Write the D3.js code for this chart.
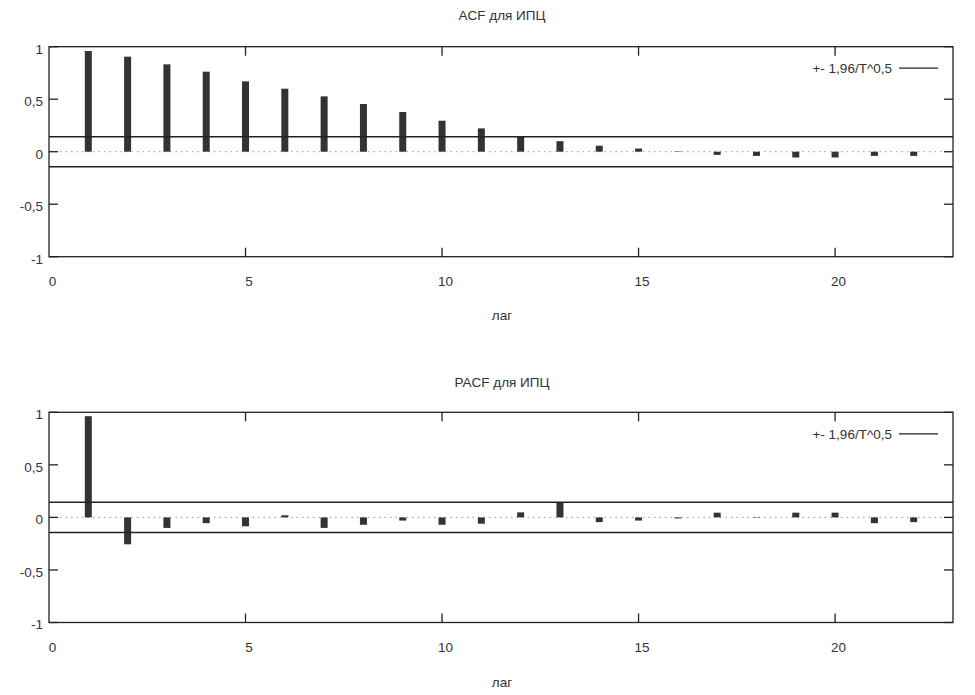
<!DOCTYPE html>
<html><head><meta charset="utf-8">
<script src="https://cdn.jsdelivr.net/npm/d3@7"></script>
<style>
body{margin:0;background:#fff;}
text{font-family:"Liberation Sans",Arial,sans-serif;fill:#333;}
</style></head>
<body><svg id="c" width="975" height="695"></svg>
<script>
const lags = d3.range(1, 23);
const acfValues = [0.959,0.905,0.832,0.762,0.67,0.6,0.527,0.454,0.378,0.295,0.222,0.149,0.10,0.057,0.03,0.004,-0.03,-0.04,-0.055,-0.055,-0.04,-0.04];
const pacfValues = [0.963,-0.256,-0.10,-0.055,-0.085,0.02,-0.10,-0.07,-0.03,-0.07,-0.06,0.048,0.147,-0.045,-0.03,-0.01,0.045,0.004,0.045,0.045,-0.055,-0.045];
const confBand = 0.143;
const xTicks = [0,5,10,15,20];
const yTicks = [-1,-0.5,0,0.5,1];
const titles = ["ACF для ИПЦ","PACF для ИПЦ"];
const xLabel = "лаг";
const legendLabel = "+- 1,96/T^0,5";

const svg = d3.select("#c");
const fmt = v => String(v).replace(".", ",");
const FS = 13.5;

function panel(values, title, top, bottom, titleY, tickLabY, xLabY){
  const x = d3.scaleLinear().domain([0,23]).range([49,953]);
  const y = d3.scaleLinear().domain([-1,1]).range([bottom, top]);
  const g = svg.append("g");
  g.append("text").attr("x",502).attr("y",titleY).attr("text-anchor","middle").attr("font-size",FS).text(title);
  // zero dotted
  g.append("line").attr("x1",x(0)).attr("x2",x(23)).attr("y1",y(0)).attr("y2",y(0))
    .attr("stroke","#999").attr("stroke-width",1).attr("stroke-dasharray","1.5,4");
  // bars
  g.selectAll("rect.bar").data(values).enter().append("rect")
    .attr("x",(d,i)=>x(lags[i])-3.5).attr("width",7)
    .attr("y",d=>y(Math.max(0,d))).attr("height",d=>Math.abs(y(d)-y(0)))
    .attr("fill","#333");
  // bands
  [confBand,-confBand].forEach(v=>{
    g.append("line").attr("x1",x(0)).attr("x2",x(23)).attr("y1",y(v)).attr("y2",y(v))
      .attr("stroke","#222").attr("stroke-width",1.5);
  });
  // frame
  g.append("rect").attr("x",x(0)).attr("y",top).attr("width",x(23)-x(0)).attr("height",bottom-top)
    .attr("fill","none").attr("stroke","#222").attr("stroke-width",1.3);
  // axes via d3
  const ax = d3.axisBottom(x).tickValues(xTicks).tickSize(0).tickPadding(0).tickFormat(fmt);
  const gx = g.append("g").attr("transform",`translate(3,${tickLabY})`).call(ax);
  gx.select(".domain").remove();
  gx.selectAll("text").attr("font-size",FS).attr("font-family",null).attr("dy","0.35em").attr("fill","#333");
  const ay = d3.axisLeft(y).tickValues(yTicks).tickSize(0).tickPadding(0).tickFormat(fmt);
  const gy = g.append("g").attr("transform",`translate(43,2)`).call(ay);
  gy.select(".domain").remove();
  gy.selectAll("text").attr("font-size",FS).attr("fill","#333");
  gx.attr("font-family",null); gy.attr("font-family",null);
  // inner ticks
  xTicks.filter(t=>t>0).forEach(t=>{
    g.append("line").attr("x1",x(t)).attr("x2",x(t)).attr("y1",bottom).attr("y2",bottom-9).attr("stroke","#222").attr("stroke-width",1.3);
    g.append("line").attr("x1",x(t)).attr("x2",x(t)).attr("y1",top).attr("y2",top+9).attr("stroke","#222").attr("stroke-width",1.3);
  });
  yTicks.forEach(t=>{
    g.append("line").attr("x1",x(0)).attr("x2",x(0)+9).attr("y1",y(t)).attr("y2",y(t)).attr("stroke","#222").attr("stroke-width",1.3);
    g.append("line").attr("x1",x(23)).attr("x2",x(23)-9).attr("y1",y(t)).attr("y2",y(t)).attr("stroke","#222").attr("stroke-width",1.3);
  });
  // legend
  const ly = top + 21.5;
  g.append("text").attr("x",892).attr("y",ly).attr("dy","0.35em").attr("text-anchor","end").attr("font-size",FS).text(legendLabel);
  g.append("line").attr("x1",899).attr("x2",938).attr("y1",ly).attr("y2",ly).attr("stroke","#222").attr("stroke-width",1.3);
  // x label
  g.append("text").attr("x",502).attr("y",xLabY).attr("text-anchor","middle").attr("font-size",FS).text(xLabel);
}
panel(acfValues, titles[0], 46.7, 256.7, 20, 281.5, 320);
panel(pacfValues, titles[1], 412.3, 622.5, 387, 647.5, 687);
</script></body></html>
